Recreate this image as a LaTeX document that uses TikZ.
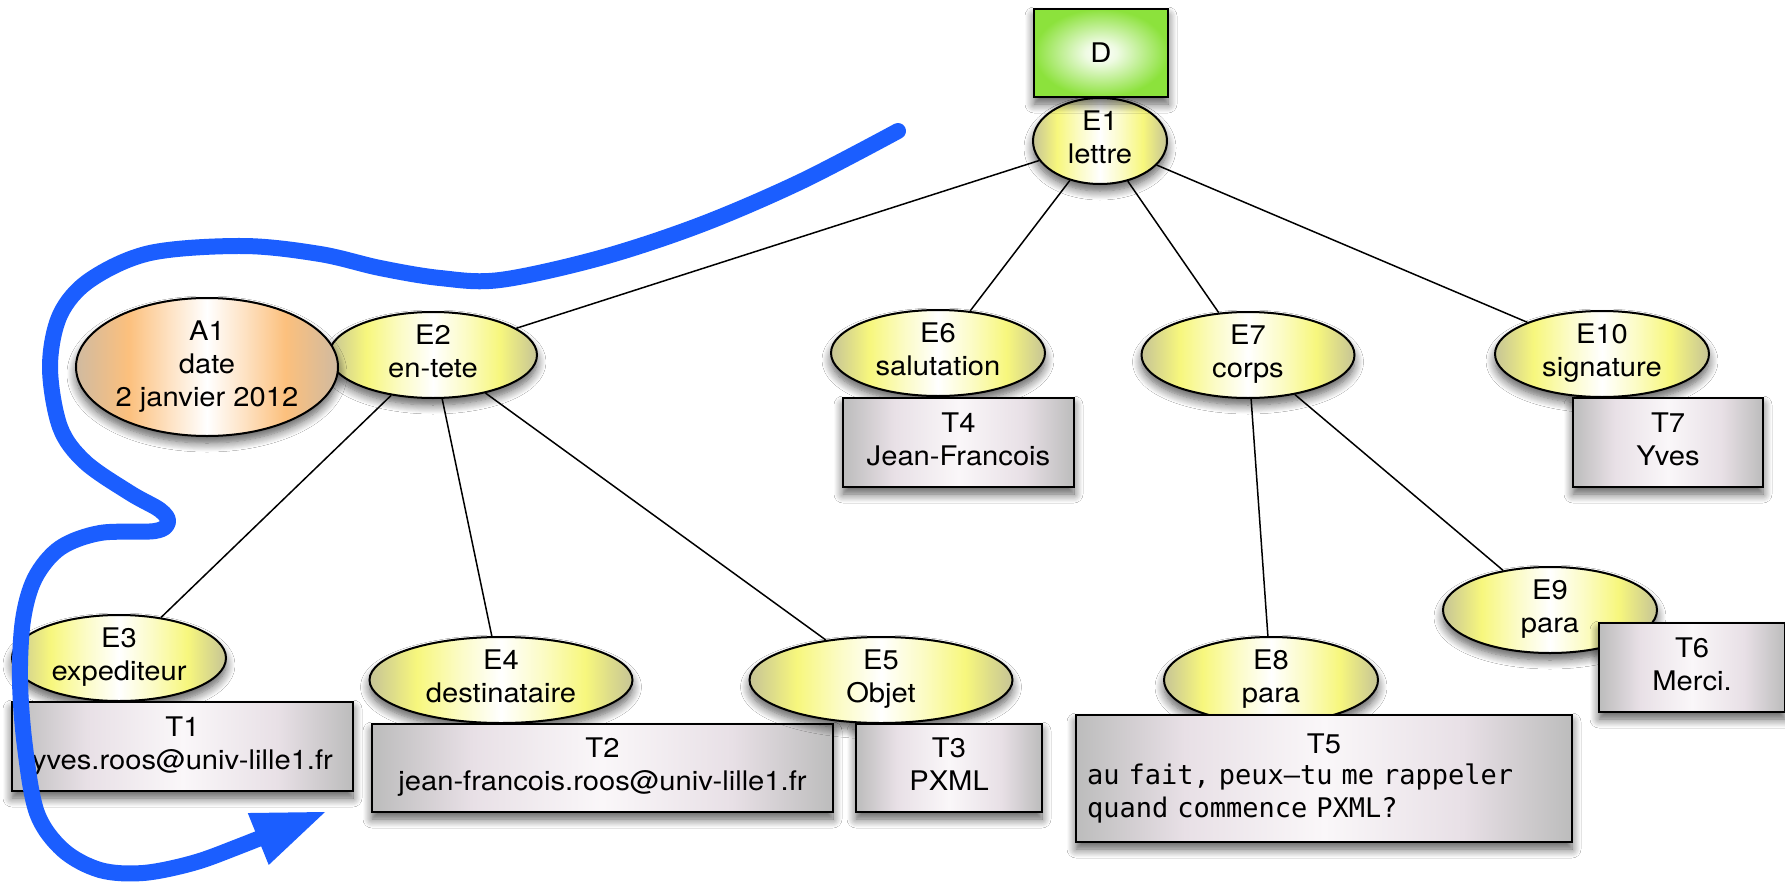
\documentclass[tikz,border=0pt]{standalone}
\usepackage{fontspec}
\usetikzlibrary{shapes.geometric,arrows.meta,shadows.blur}
\newfontfamily\helv{TeX Gyre Heros}[FakeStretch=1.08]
\newfontfamily\monof{DejaVu Sans Mono}
\definecolor{yedge}{RGB}{198,196,150}
\definecolor{ymid}{RGB}{247,247,125}
\definecolor{oedge}{RGB}{208,186,160}
\definecolor{omid}{RGB}{252,192,125}
\definecolor{gedge}{RGB}{188,188,188}
\definecolor{gmid}{RGB}{232,224,230}
\definecolor{gcen}{RGB}{250,247,249}
\definecolor{dgreen}{RGB}{140,226,60}
\definecolor{trailblue}{RGB}{27,94,255}
\pgfdeclarehorizontalshading{yelsh}{100bp}{color(0bp)=(yedge); color(25bp)=(yedge); color(34bp)=(ymid); color(42bp)=(ymid!45!white); color(50bp)=(white); color(58bp)=(ymid!45!white); color(66bp)=(ymid); color(75bp)=(yedge); color(100bp)=(yedge)}
\pgfdeclarehorizontalshading{orsh}{100bp}{color(0bp)=(oedge); color(25bp)=(oedge); color(35bp)=(omid); color(43bp)=(omid!45!white); color(50bp)=(white); color(57bp)=(omid!45!white); color(65bp)=(omid); color(75bp)=(oedge); color(100bp)=(oedge)}
\pgfdeclarehorizontalshading{greysh}{100bp}{color(0bp)=(gedge); color(25bp)=(gedge); color(36bp)=(gmid); color(50bp)=(gcen); color(64bp)=(gmid); color(75bp)=(gedge); color(100bp)=(gedge)}
\pgfdeclareradialshading{greensh}{\pgfpoint{0bp}{0bp}}{color(0bp)=(white); color(6bp)=(white!85!dgreen); color(25bp)=(dgreen); color(50bp)=(dgreen)}
\pgfdeclarelayer{bg}
\pgfsetlayers{bg,main}
\newcommand\dstr{\rule[-7pt]{0pt}{7pt}}
\begin{document}
\begin{tikzpicture}[x=1pt,y=-1pt,
  base/.style={draw=black, line width=2pt, inner sep=0pt, align=center,
    font=\helv\fontsize{27}{33}\selectfont,
    blur shadow={shadow xshift=0pt, shadow yshift=-7pt, shadow blur radius=9pt, shadow blur steps=10, shadow opacity=65}},
  elem/.style={base, ellipse, shade, shading=yelsh, minimum width=214pt, minimum height=86pt},
  attr/.style={base, ellipse, shade, shading=orsh},
  tbox/.style={base, rectangle, shade, shading=greysh, minimum height=89pt},
  docbox/.style={base, rectangle, shade, shading=greensh},
  edge/.style={line width=1.5pt, draw=black},
  trail/.style={draw=trailblue, line width=16pt, line cap=round, line join=round,
    -{Triangle[length=72pt,width=56pt,line width=0pt]}}
]
\useasboundingbox (0,0) rectangle (1785,883);

\node[elem, minimum width=134pt] (E1) at (1100,141) {E1\\lettre\dstr};
\node[docbox, minimum width=134pt, minimum height=88pt] (D) at (1101,53) {D};
\node[elem, minimum width=208pt] (E2) at (433,355) {E2\\en-tete\dstr};
\node[attr, minimum width=262pt, minimum height=138pt] (A1) at (207,367) {A1\\date\\2 janvier 2012};
\node[elem] (E6) at (938,353) {E6\\salutation\dstr};
\node[tbox, minimum width=231pt] (T4) at (958.5,442.5) {T4\\Jean-Francois\dstr};
\node[elem, minimum width=213pt] (E7) at (1248,355) {E7\\corps\dstr};
\node[elem] (E10) at (1602,354) {E10\\signature\dstr};
\node[tbox, minimum width=190pt] (T7) at (1668,442.5) {T7\\Yves\dstr};
\node[elem] (E3) at (119,658) {E3\\expediteur\dstr};
\node[tbox, minimum width=341pt] (T1) at (182.5,746.5) {T1\\yves.roos@univ-lille1.fr\dstr};
\node[elem, minimum width=263pt] (E4) at (501,680) {E4\\destinataire\dstr};
\node[tbox, minimum width=461pt, minimum height=88pt] (T2) at (602.5,768) {T2\\jean-francois.roos@univ-lille1.fr\dstr};
\node[elem, minimum width=263pt] (E5) at (881,680) {E5\\Objet\dstr};
\node[tbox, minimum width=186pt, minimum height=88pt] (T3) at (949,768) {T3\\PXML\dstr};
\node[elem] (E8) at (1271,680) {E8\\para\dstr};
\node[tbox, text width=474pt, inner xsep=11pt, minimum height=127pt, align=left] (T5) at (1324,778.5)
  {\makebox[\linewidth]{T5}\\[-2pt]{\monof\fontsize{27}{33}\selectfont au fait, peux–tu me rappeler}\\{\monof\fontsize{27}{33}\selectfont quand commence PXML?}};
\node[elem] (E9) at (1550,610) {E9\\para\dstr};
\node[tbox, minimum width=186pt] (T6) at (1692,667.5) {T6\\Merci.\dstr};

\begin{pgfonlayer}{bg}
\fill[white] (0,0) rectangle (1785,883);
\draw[edge] (E1) -- (E2);
\draw[edge] (E1) -- (E6);
\draw[edge] (E1) -- (E7);
\draw[edge] (E1) -- (E10);
\draw[edge] (E2) -- (E3);
\draw[edge] (E2) -- (E4);
\draw[edge] (E2) -- (E5);
\draw[edge] (E7) -- (E8);
\draw[edge] (E7) -- (E9);
\end{pgfonlayer}

\coordinate (trailstart) at (898,131);
\coordinate (trailtip) at (325,812);
\draw[trail] plot[smooth, tension=0.55] coordinates {(trailstart) (800,182) (700,225) (600,258) (500,280) (440,278) (380,268) (320,254) (243,246) (150,253) (90,280) (60,315) (50,367) (60,427) (85,462) (130,493) (160,510) (168,522) (155,531) (100,533) (60,548) (35,578) (23,620) (20,680) (25,747) (37,813) (63,850) (100,870) (143,873) (193,863) (240,846) (trailtip)};
\end{tikzpicture}
\end{document}
